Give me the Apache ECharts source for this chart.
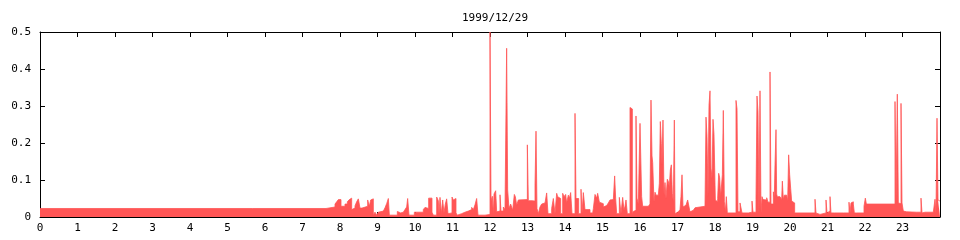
<!DOCTYPE html>
<html>
<head>
<meta charset="utf-8">
<script src="https://cdn.jsdelivr.net/npm/echarts@6/dist/echarts.min.js"></script>
<style>
html,body{margin:0;padding:0;background:#fff;}
#chart{width:960px;height:240px;}
</style>
</head>
<body>
<div id="chart"></div>
<script>
// Chart title
const titleText = '1999/12/29';
// Hour tick labels along the x axis
const hourLabels = ['0','1','2','3','4','5','6','7','8','9','10','11','12','13','14','15','16','17','18','19','20','21','22','23'];
// Value tick labels on the y axis
const valueTicks = [0, 0.1, 0.2, 0.3, 0.4, 0.5];

// Step series: [hour, value] change points (value holds until the next point)
const night = [
  [0, 0.023], [5.66, 0.026], [5.69, 0.023]
];
const morning = [
  [7.627, 0.027], [7.867, 0.035], [7.911, 0.041], [7.956, 0.047],
  [8.027, 0.029], [8.133, 0.035], [8.196, 0.041], [8.249, 0.047], [8.284, 0.051],
  [8.311, 0.020], [8.356, 0.024], [8.4, 0.030], [8.444, 0.041], [8.489, 0.049],
  [8.533, 0.024], [8.587, 0.029], [8.738, 0.046], [8.782, 0.029], [8.818, 0.046], [8.844, 0.049],
  [8.889, 0.005], [8.933, 0.013], [8.978, 0.005], [9.022, 0.013], [9.067, 0.016], [9.156, 0.018],
  [9.2, 0.025], [9.244, 0.036], [9.289, 0.050],
  [9.316, 0.005], [9.529, 0.015], [9.573, 0.011], [9.618, 0.013], [9.689, 0.016], [9.733, 0.020],
  [9.778, 0.027], [9.804, 0.050],
  [9.84, 0.005], [9.982, 0.013], [10.222, 0.020], [10.267, 0.026], [10.311, 0.023], [10.364, 0.051],
  [10.453, 0.013], [10.489, 0.005], [10.578, 0.054], [10.622, 0.044], [10.64, 0.009], [10.667, 0.053],
  [10.702, 0.009], [10.738, 0.046], [10.773, 0.011], [10.809, 0.035], [10.844, 0.049], [10.88, 0.009],
  [10.933, 0.011], [10.987, 0.054], [11.022, 0.046], [11.067, 0.050], [11.093, 0.011], [11.129, 0.005],
  [11.182, 0.009], [11.244, 0.013], [11.333, 0.016], [11.422, 0.020], [11.511, 0.026], [11.556, 0.020],
  [11.6, 0.033], [11.644, 0.050], [11.68, 0.005], [11.867, 0.007]
];
const midday = [
  [12.0, 0.5], [12.027, 0.044], [12.062, 0.056], [12.089, 0.009], [12.107, 0.062], [12.151, 0.071],
  [12.178, 0.014], [12.222, 0.016], [12.267, 0.060], [12.293, 0.016], [12.356, 0.027], [12.4, 0.020],
  [12.444, 0.456], [12.471, 0.073], [12.507, 0.023], [12.551, 0.035], [12.604, 0.018], [12.649, 0.061],
  [12.676, 0.055], [12.711, 0.032], [12.756, 0.046], [12.8, 0.047], [12.996, 0.195], [13.022, 0.044],
  [13.12, 0.047], [13.156, 0.043], [13.2, 0.086], [13.227, 0.232], [13.253, 0.023], [13.289, 0.009],
  [13.333, 0.027], [13.378, 0.035], [13.422, 0.038], [13.467, 0.041], [13.511, 0.065], [13.547, 0.009],
  [13.644, 0.023], [13.689, 0.050], [13.733, 0.009], [13.778, 0.064], [13.804, 0.055], [13.849, 0.050],
  [13.884, 0.009], [13.938, 0.064], [13.973, 0.055], [14.018, 0.061], [14.044, 0.038], [14.089, 0.059],
  [14.116, 0.050], [14.151, 0.066], [14.187, 0.009], [14.267, 0.280], [14.293, 0.050], [14.364, 0.009],
  [14.427, 0.075], [14.453, 0.009], [14.489, 0.066], [14.533, 0.020], [14.667, 0.011], [14.729, 0.005],
  [14.756, 0.023], [14.8, 0.061], [14.844, 0.051], [14.871, 0.064], [14.916, 0.040], [14.96, 0.036],
  [15.022, 0.027], [15.067, 0.031], [15.111, 0.035], [15.156, 0.038], [15.2, 0.046], [15.244, 0.047],
  [15.289, 0.050], [15.324, 0.111], [15.351, 0.050], [15.378, 0.009], [15.449, 0.053], [15.493, 0.009],
  [15.538, 0.053], [15.573, 0.018], [15.6, 0.029], [15.627, 0.046], [15.662, 0.009], [15.733, 0.296],
  [15.76, 0.292], [15.796, 0.009], [15.822, 0.015], [15.867, 0.018], [15.893, 0.273], [15.92, 0.051],
  [15.956, 0.035]
];
const afternoon = [
  [16.0, 0.253], [16.044, 0.055], [16.071, 0.029], [16.222, 0.032], [16.267, 0.035], [16.293, 0.316],
  [16.32, 0.165], [16.338, 0.147], [16.373, 0.041], [16.4, 0.067], [16.427, 0.059], [16.489, 0.064],
  [16.516, 0.091], [16.542, 0.258], [16.569, 0.198], [16.587, 0.141], [16.613, 0.262], [16.64, 0.059],
  [16.667, 0.093], [16.693, 0.050], [16.729, 0.102], [16.756, 0.096], [16.782, 0.082], [16.809, 0.127],
  [16.836, 0.141], [16.862, 0.064], [16.889, 0.041], [16.916, 0.262], [16.933, 0.009], [16.978, 0.014],
  [17.022, 0.018], [17.067, 0.020], [17.093, 0.055], [17.12, 0.114], [17.147, 0.027], [17.182, 0.032],
  [17.227, 0.036], [17.271, 0.046], [17.316, 0.050], [17.333, 0.014], [17.378, 0.018], [17.422, 0.021],
  [17.467, 0.025], [17.511, 0.027], [17.6, 0.029], [17.733, 0.032], [17.76, 0.270], [17.787, 0.218],
  [17.813, 0.055], [17.84, 0.302], [17.867, 0.341], [17.893, 0.132], [17.92, 0.105], [17.947, 0.264],
  [17.973, 0.223], [18.009, 0.046], [18.036, 0.041], [18.071, 0.050], [18.098, 0.118], [18.124, 0.106],
  [18.151, 0.055], [18.178, 0.050], [18.196, 0.114], [18.222, 0.288], [18.249, 0.041], [18.276, 0.014],
  [18.302, 0.055], [18.329, 0.011], [18.56, 0.315], [18.587, 0.292], [18.613, 0.014], [18.667, 0.038],
  [18.702, 0.040], [18.72, 0.011], [18.889, 0.013], [18.987, 0.043], [19.013, 0.013], [19.093, 0.047],
  [19.12, 0.327], [19.147, 0.283], [19.173, 0.011], [19.2, 0.341], [19.227, 0.011], [19.253, 0.055],
  [19.28, 0.047], [19.333, 0.046], [19.378, 0.052], [19.413, 0.040], [19.467, 0.392], [19.493, 0.035],
  [19.556, 0.068], [19.582, 0.055], [19.6, 0.141], [19.627, 0.236], [19.644, 0.062], [19.662, 0.055],
  [19.733, 0.053], [19.778, 0.047], [19.796, 0.097], [19.822, 0.047], [19.849, 0.059], [19.911, 0.064],
  [19.938, 0.043], [19.964, 0.168], [19.991, 0.114], [20.018, 0.077], [20.044, 0.043], [20.089, 0.038]
];
const evening = [
  [20.124, 0.011], [20.667, 0.048], [20.693, 0.011], [20.738, 0.007], [20.8, 0.011], [20.96, 0.046],
  [20.987, 0.011], [21.022, 0.016], [21.067, 0.055], [21.093, 0.011], [21.182, 0.014], [21.209, 0.011],
  [21.422, 0.014], [21.467, 0.011], [21.573, 0.040], [21.6, 0.011], [21.627, 0.038], [21.653, 0.041],
  [21.689, 0.035], [21.716, 0.011], [21.778, 0.013], [21.822, 0.011], [21.867, 0.013], [21.92, 0.011],
  [21.973, 0.029], [22.009, 0.051], [22.036, 0.035], [22.8, 0.312], [22.827, 0.041], [22.862, 0.332],
  [22.889, 0.038], [22.933, 0.036], [22.96, 0.307], [22.987, 0.038], [23.022, 0.016], [23.067, 0.014],
  [23.111, 0.013], [23.378, 0.016], [23.422, 0.013], [23.493, 0.051], [23.52, 0.011], [23.556, 0.013],
  [23.6, 0.011], [23.644, 0.013], [23.733, 0.011], [23.778, 0.013], [23.822, 0.011], [23.867, 0.048],
  [23.893, 0.011], [23.92, 0.267], [23.947, 0.046], [24.0, 0.043]
];

const seriesData = [].concat(night, morning, midday, afternoon, evening);

const FONT = 'DejaVu Sans Mono';
const FILL = '#ff5555';
const chart = echarts.init(document.getElementById('chart'), null, {renderer: 'canvas'});
const black = '#000';

function frameAxis(extra) {
  return Object.assign({
    axisLine: {show: true, onZero: false, lineStyle: {color: black, width: 1}},
    axisTick: {show: true, inside: true, length: 5, lineStyle: {color: black}},
    splitLine: {show: false}
  }, extra);
}

chart.setOption({
  animation: false,
  backgroundColor: '#fff',
  title: {
    text: titleText,
    left: 490,
    textAlign: 'center',
    top: 8,
    textStyle: {fontFamily: FONT, fontSize: 11, fontWeight: 'normal', color: black}
  },
  grid: {left: 40, right: 20, top: 32, bottom: 23, containLabel: false},
  xAxis: [
    frameAxis({
      type: 'value', position: 'bottom', min: 0, max: 24, interval: 1,
      axisLabel: {
        margin: 6, color: black, fontFamily: FONT, fontSize: 11,
        formatter: function (v) { return v < 24 ? hourLabels[Math.round(v)] : ''; }
      }
    }),
    frameAxis({
      type: 'value', position: 'top', min: 0, max: 24, interval: 1,
      axisLabel: {show: false}
    })
  ],
  yAxis: [
    frameAxis({
      type: 'value', position: 'left', min: valueTicks[0], max: valueTicks[valueTicks.length - 1], interval: 0.1,
      axisLabel: {
        margin: 9, color: black, fontFamily: FONT, fontSize: 11,
        formatter: function (v) {
          const t = valueTicks.find(function (x) { return Math.abs(x - v) < 1e-9; });
          return t === undefined ? '' : String(t);
        }
      }
    }),
    frameAxis({
      type: 'value', position: 'right', min: 0, max: 0.5, interval: 0.1,
      axisLabel: {show: false}
    })
  ],
  series: [{
    type: 'line',
    xAxisIndex: 0,
    yAxisIndex: 0,
    step: 'end',
    data: seriesData,
    showSymbol: false,
    symbol: 'none',
    sampling: null,
    clip: true,
    lineStyle: {width: 0.8, color: FILL, opacity: 1, join: 'miter'},
    areaStyle: {color: FILL, opacity: 1},
    z: 3
  }]
});
</script>
</body>
</html>
